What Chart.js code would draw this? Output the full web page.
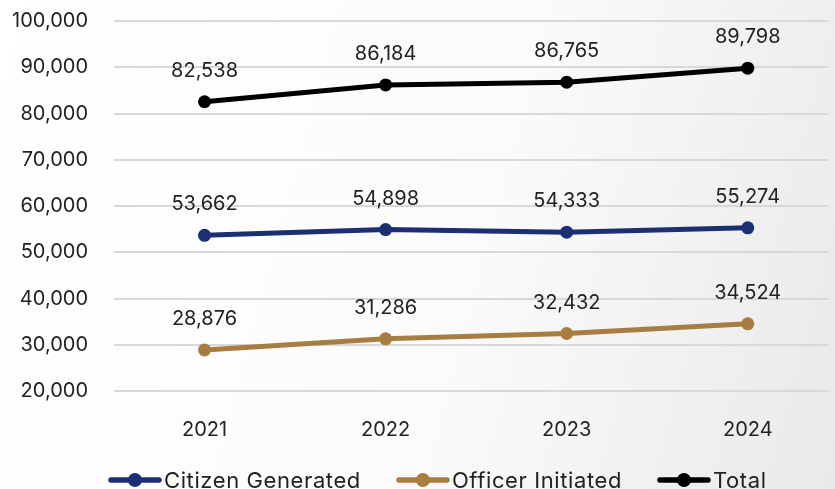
<!DOCTYPE html>
<html>
<head>
<meta charset="utf-8">
<script src="https://cdn.jsdelivr.net/npm/chart.js@4"></script>
<style>
  html, body { margin:0; padding:0; width:835px; height:489px; overflow:hidden; }
  body { background: linear-gradient(105deg, #ffffff 0%, #fbfbfb 55%, #f3f3f3 75%, #e9e9e9 100%); }
  canvas { display:block; }
</style>
</head>
<body>
<canvas id="c" width="835" height="489"></canvas>
<script>
const years = ['2021', '2022', '2023', '2024'];
const citizenGenerated = [53662, 54898, 54333, 55274];
const officerInitiated = [28876, 31286, 32432, 34524];
const total = [82538, 86184, 86765, 89798];
const yTicks = [20000, 30000, 40000, 50000, 60000, 70000, 80000, 90000, 100000];

const seriesNames = ['Citizen Generated', 'Officer Initiated', 'Total'];
const seriesColors = ['#1c2f73', '#a87d42', '#000000'];
const seriesValues = [citizenGenerated, officerInitiated, total];

const FONT = "Inter, sans-serif";
const fmt = v => v.toLocaleString('en-US');

const datasets = seriesValues.map((vals, i) => ({
  label: seriesNames[i],
  data: vals.map((v, j) => ({ x: j, y: v })),
  borderColor: seriesColors[i],
  backgroundColor: seriesColors[i],
  borderWidth: 5,
  pointRadius: 6.5,
  pointHoverRadius: 6.5,
  pointBorderWidth: 0,
  tension: 0
}));

const labelPlugin = {
  id: 'valueLabels',
  afterDatasetsDraw(chart) {
    const ctx = chart.ctx;
    ctx.save();
    ctx.font = '20px ' + FONT;
    ctx.fillStyle = '#222222';
    ctx.textAlign = 'center';
    ctx.textBaseline = 'middle';
    chart.data.datasets.forEach((ds, i) => {
      const meta = chart.getDatasetMeta(i);
      meta.data.forEach((pt, j) => {
        ctx.fillText(fmt(ds.data[j].y), pt.x, pt.y - 31);
      });
    });
    ctx.restore();
  }
};

const legendPlugin = {
  id: 'lineLegend',
  afterDraw(chart) {
    const ctx = chart.ctx;
    ctx.save();
    ctx.font = '22px ' + FONT;
    try { ctx.letterSpacing = '0.6px'; } catch (e) {}
    ctx.textBaseline = 'alphabetic';
    ctx.textAlign = 'left';
    let x = 109;
    const y = 480;
    chart.data.datasets.forEach((ds) => {
      ctx.strokeStyle = ds.borderColor;
      ctx.fillStyle = ds.borderColor;
      ctx.lineWidth = 5.5;
      ctx.lineCap = 'round';
      ctx.beginPath();
      ctx.moveTo(x + 2, y);
      ctx.lineTo(x + 50, y);
      ctx.stroke();
      ctx.beginPath();
      ctx.arc(x + 26, y, 7, 0, Math.PI * 2);
      ctx.fill();
      ctx.fillStyle = '#222222';
      ctx.fillText(ds.label, x + 55, y + 8);
      x += 55 + ctx.measureText(ds.label).width + 36;
    });
    ctx.restore();
  }
};

new Chart(document.getElementById('c'), {
  type: 'line',
  data: { datasets },
  options: {
    responsive: false,
    animation: false,
    layout: { padding: 0 },
    plugins: {
      legend: { display: false },
      tooltip: { enabled: false }
    },
    scales: {
      x: {
        type: 'linear',
        min: -0.5,
        max: 3.446,
        grid: { display: false, drawTicks: false },
        border: { display: false },
        afterBuildTicks: (scale) => { scale.ticks = years.map((_, i) => ({ value: i })); },
        afterFit: (scale) => { scale.height = 98; scale.paddingLeft = 0; scale.paddingRight = 0; },
        ticks: {
          padding: 27,
          color: '#222222',
          font: { family: FONT, size: 20 },
          callback: (v) => years[v]
        }
      },
      y: {
        min: 20000,
        max: 100000,
        grid: { color: '#d8d8d8', lineWidth: 2, drawTicks: false },
        border: { display: false },
        afterBuildTicks: (scale) => { scale.ticks = yTicks.map(v => ({ value: v })); },
        afterFit: (scale) => { scale.width = 114; scale.paddingTop = 21; scale.paddingBottom = 0; },
        ticks: {
          padding: 26,
          color: '#222222',
          font: { family: FONT, size: 20 },
          callback: (v) => fmt(v)
        }
      }
    }
  },
  plugins: [labelPlugin, legendPlugin]
});
</script>
</body>
</html>
